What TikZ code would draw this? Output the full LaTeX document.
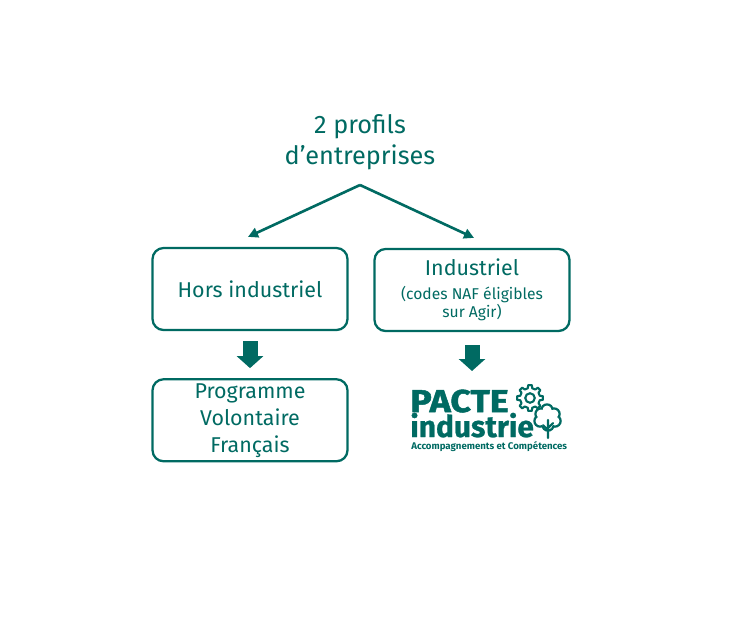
\documentclass[tikz,border=0pt]{standalone}
\usepackage{fontspec}
\setmainfont{Fira Sans}
\usetikzlibrary{arrows.meta, positioning}
\definecolor{brand}{HTML}{006A62}
\newcommand{\smalltxt}{\fontsize{8.9}{9.8}\selectfont}
\tikzset{
  box/.style={rectangle, rounded corners=0.22cm, draw=brand, line width=1.3pt,
              minimum width=3.9cm, minimum height=1.64cm, align=center, inner sep=1pt,
              text=brand, font=\fontsize{12.2}{15.4}\selectfont},
  headline/.style={align=center, text=brand, font=\fontsize{14.4}{17.6}\selectfont},
  branch/.style={-{Triangle[length=0.2cm, width=0.2cm]}, line width=1.5pt, draw=brand},
  bigarrow/.style={-{Triangle[length=0.24cm, width=0.52cm]}, line width=0.3cm, draw=brand},
  logo/.style={inner sep=0pt, text=brand, font=\fontsize{18}{18}\selectfont\bfseries},
  tagline/.style={inner sep=0pt, text=brand, font=\fontsize{5.5}{6}\selectfont\bfseries},
}
\begin{document}
\begin{tikzpicture}[x=0.02cm, y=-0.02cm, node distance=0.94cm]
  \useasboundingbox (0,0) rectangle (732,622);

  %% ── TITLE ────────────────────────────────────────────────────────────────
  \node[headline] (title) at (360,142) {2 profils\\d'entreprises};
  \coordinate (apex) at (360,185);

  %% ── PROFILES ─────────────────────────────────────────────────────────────
  \node[box] (hors)  at (250,289) {Hors industriel};
  \node[box] (indus) at (472,290)
        {Industriel\\[-2pt]{\smalltxt (codes NAF éligibles}\\[-5pt]{\smalltxt sur Agir)}};
  \node[box, below=of hors] (pvf) {Programme\\Volontaire\\Français};

  %% ── PACTE INDUSTRIE LOGO ─────────────────────────────────────────────────
  % gear
  \draw[brand, line width=1.2pt, fill=white, line join=round]
    ([shift={(530,398)}]-13:0.2cm)
    \foreach \a in {0,45,...,315}{
      -- ([shift={(530,398)}]\a-13:0.2cm) -- ([shift={(530,398)}]\a-8:0.26cm)
      -- ([shift={(530,398)}]\a+8:0.26cm) -- ([shift={(530,398)}]\a+13:0.2cm)
    } -- cycle;
  \draw[brand, line width=1.2pt] (530,398) circle[radius=0.095cm];

  % tree
  \foreach \x/\y in {547/410, 541/414, 540/421, 554/414, 555/421, 548/425}{
    \fill[brand] (\x,\y) circle[radius=0.135cm];
  }
  \foreach \x/\y in {547/410, 541/414, 540/421, 554/414, 555/421, 548/425}{
    \fill[white] (\x,\y) circle[radius=0.09cm];
  }
  \fill[white] (547.5,418) circle[radius=0.18cm];
  \draw[brand, line width=1.2pt, line cap=round] (548,438) -- (548,420)
        (548,430) -- (543,425) (548,428) -- (553,423);

  \node[logo, anchor=base west] (pacte) at (410,412)
        {\addfontfeature{FakeStretch=1.13, FakeBold=1.6}PACTE};
  \node[logo, anchor=base west] (industrie) at (410,437)
        {\fontsize{17}{17}\selectfont\addfontfeature{FakeBold=0.8}industrie};
  \node[tagline, anchor=base west] (tag) at (411,449) {Accompagnements et Compétences};
  \coordinate (logotop) at (472,371);

  %% ── ARROWS ───────────────────────────────────────────────────────────────
  \draw[branch] (apex) -- ([xshift=-0.04cm, yshift=0.2cm]hors.north);
  \draw[branch] (apex) -- ([xshift=0.04cm, yshift=0.2cm]indus.north);
  \draw[bigarrow, shorten <=0.2cm, shorten >=0.2cm] (hors) -- (pvf);
  \draw[bigarrow, shorten <=0.26cm] (indus.south) -- (indus.south |- logotop);

\end{tikzpicture}
\end{document}
